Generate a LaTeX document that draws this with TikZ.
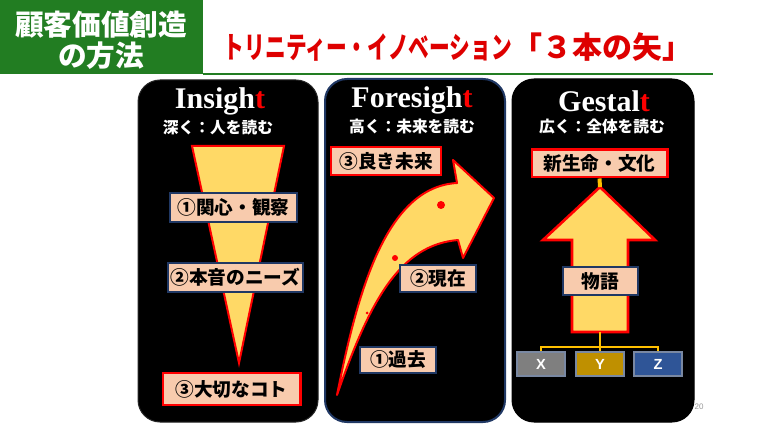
\documentclass[tikz,border=0pt]{standalone}
\usepackage{fontspec}
\usepackage{graphicx}
\setmainfont{Liberation Serif}
\newfontfamily\jpfont{Noto Sans CJK JP}
\newfontfamily\lsans{Liberation Sans}

\definecolor{titlegreen}{RGB}{34,125,34}
\definecolor{cardnavy}{RGB}{32,56,100}
\definecolor{boxsalmon}{RGB}{248,203,173}
\definecolor{arrowyellow}{RGB}{255,217,102}
\definecolor{busgold}{RGB}{255,192,0}
\definecolor{tagx}{RGB}{127,127,127}
\definecolor{tagy}{RGB}{191,144,0}
\definecolor{tagz}{RGB}{47,85,151}
\definecolor{titlered}{RGB}{222,0,0}

\tikzset{every picture/.style={line width=0.75pt}}
\tikzset{
  card/.style={fill=black, rounded corners=16.5pt},
  headword/.style={text=white, inner sep=0pt, font=\bfseries\fontsize{22.5}{23}\selectfont},
  subhead/.style={text=white, inner sep=0pt, font=\jpfont\bfseries\fontsize{11.8}{12}\selectfont},
  lblbox/.style={draw=cardnavy, fill=boxsalmon, line width=1.2pt, inner sep=0pt, font=\jpfont\bfseries\fontsize{14}{14}\selectfont},
  keybox/.style={lblbox, draw=red, line width=2.2pt},
  tagbox/.style={draw=cardnavy!60, line width=0.8pt, inner sep=0pt, minimum width=36pt, minimum height=18pt, text=white, font=\lsans\bfseries\fontsize{11}{11}\selectfont},
  bus/.style={draw=busgold, line width=2pt},
  shapefill/.style={fill=arrowyellow, draw=red, line width=1.5pt}
}

\begin{document}
\begin{tikzpicture}[x=0.75pt,y=0.75pt,yscale=-1,xscale=1]
	\useasboundingbox (0,0) rectangle (760,427);
	\fill[white] (0,0) rectangle (760,427);

	%Shape: Rectangle [title band]
	\fill[titlegreen] (0,0) rectangle (203,74);
	%Straight Lines [title rule]
	\draw[titlegreen, line width=2pt] (203,74) -- (713,74);
	% Text Node
	\node[text=white, align=center, inner sep=0pt, font=\jpfont\bfseries\fontsize{21.5}{23}\selectfont] (method) at (101,40) {顧客価値創造\\の方法};
	% Text Node
	\node[text=titlered, inner sep=0pt, font=\jpfont\bfseries\fontsize{22.5}{23}\selectfont] (trinity) at (458,47) {\scalebox{0.69}[1]{トリニティー・イノベーション}「３本の矢」};

	%Shape: Rounded Rect [Insight]
	\filldraw[card, draw=black!85] (138,80) rectangle (318,422);
	%Shape: Rounded Rect [Foresight]
	\filldraw[card, draw=cardnavy, line width=1.5pt] (325,79) rectangle (505,422);
	%Shape: Rounded Rect [Gestalt]
	\filldraw[card] (512,79) rectangle (694,422);

	% Text Node
	\node[headword] (insight) at (220,101) {Insigh\textcolor{red}{t}};
	\node[subhead] (insightsub) at (218,128) {深く：人を読む};
	% Text Node
	\node[headword] (foresight) at (412,100) {Foresigh\textcolor{red}{t}};
	\node[subhead] (foresightsub) at (412,127) {高く：未来を読む};
	% Text Node
	\node[headword] (gestalt) at (604,101) {Gestal\textcolor{red}{t}};
	\node[subhead] (gestaltsub) at (602,127) {広く：全体を読む};

	%Shape: Triangle [depth]
	\filldraw[shapefill] (192,146) -- (284,146) -- (239,363) -- cycle;
	% Text Node
	\node[lblbox, minimum width=95.3pt, minimum height=21.8pt] (interest) at (233.5,207.5) {①関心・観察};
	\node[lblbox, minimum width=101.3pt, minimum height=21.8pt] (needs) at (235.5,277.5) {②本音のニーズ};
	\node[keybox, minimum width=102.8pt, minimum height=24pt] (essence) at (231.5,389) {③大切なコト};

	%Curve Lines [rising arrow]
	\filldraw[shapefill, line join=round] (337,395) .. controls (357,295) and (385,187) .. (457,183) -- (453,160) -- (494,198) -- (463,258) -- (458,240) .. controls (400,245) and (370,300) .. (337,395) -- cycle;
	\fill[red] (441,205) circle (4);
	\fill[red] (395,258) circle (3);
	\fill[red] (367,313) circle (1.5);
	% Text Node
	\node[keybox, minimum width=82.5pt, minimum height=21pt] (future) at (386,161) {③良き未来};
	\node[lblbox, minimum width=57pt, minimum height=20.3pt] (present) at (438,278.5) {②現在};
	\node[lblbox, minimum width=57pt, minimum height=19.5pt] (past) at (398,360) {①過去};

	%Shape: Up Arrow [breadth]
	\filldraw[shapefill, line width=2pt] (600,187) -- (655,240) -- (628,240) -- (628,332) -- (572,332) -- (572,240) -- (543,240) -- cycle;
	\coordinate (gtip) at (600,187);
	\coordinate (gbase) at (600,332);
	\coordinate (gfork) at (600,347);
	% Text Node
	\node[keybox, minimum width=101.3pt, minimum height=20.3pt] (newlife) at (599.5,163.5) {新生命・文化};
	\node[lblbox, minimum width=56.3pt, minimum height=21pt] (story) at (600.5,281) {物語};
	\node[tagbox, fill=tagx] (nodex) at (541,364) {X};
	\node[tagbox, fill=tagy] (nodey) at (600,364) {Y};
	\node[tagbox, fill=tagz] (nodez) at (658,364) {Z};
	%Straight Lines [tree]
	\draw[bus, line width=3pt] (newlife.south) -- (gtip);
	\draw[bus] (gbase) -- (gfork);
	\draw[bus] (nodex.north) |- (gfork) -| (nodez.north);
	\draw[bus] (gfork) -- (nodey.north);

	% Text Node
	\node[text=black!40, inner sep=0pt, font=\lsans\fontsize{6}{6}\selectfont] (pagenum) at (699,407) {20};

\end{tikzpicture}
\end{document}
